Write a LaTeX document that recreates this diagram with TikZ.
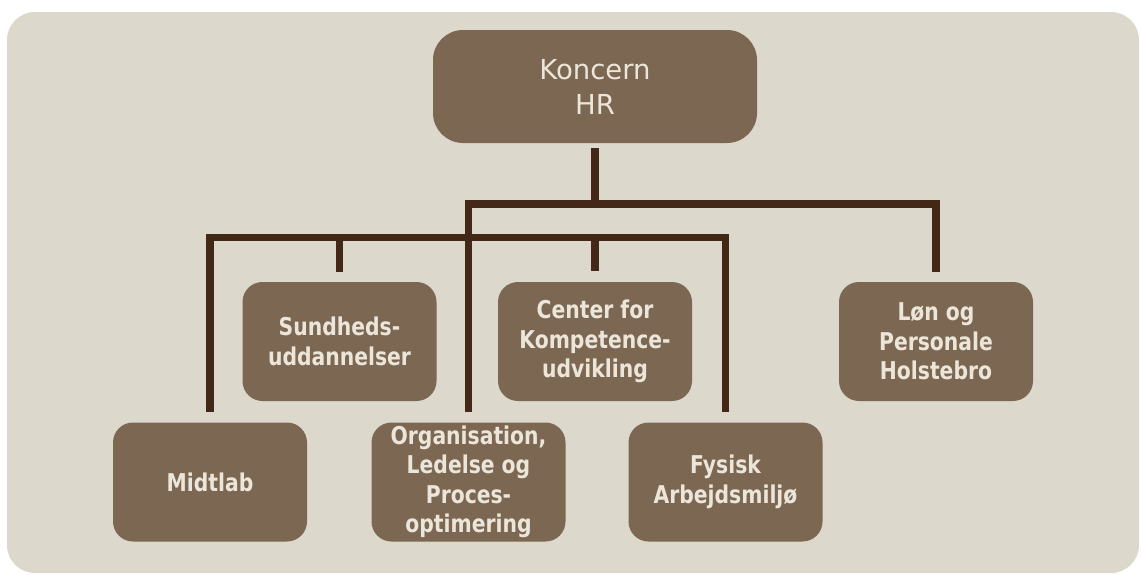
\documentclass[tikz,border=0pt]{standalone}
\usepackage{fontspec}
\setmainfont{DejaVu Sans}[FakeStretch=0.83]
\newfontfamily\topfont{DejaVu Sans}[FakeStretch=1.0]
\definecolor{bgc}{HTML}{DCD8CB}
\definecolor{boxc}{HTML}{7C6752}
\definecolor{linec}{HTML}{432818}
\definecolor{txtc}{HTML}{ECE6DA}
\tikzset{
  unit/.style={fill=boxc, text=txtc, rounded corners=20pt, minimum width=194pt,
    minimum height=119pt, inner sep=0pt, align=center,
    font=\bfseries\fontsize{24.5}{29.5}\selectfont},
  topbox/.style={fill=boxc, text=txtc, rounded corners=30pt, minimum width=324pt,
    minimum height=113pt, inner sep=0pt, align=center,
    font=\topfont\fontsize{27.5}{35}\selectfont},
  conn/.style={draw=linec, line width=7.5pt, line cap=butt, line join=miter}
}
\begin{document}
\begin{tikzpicture}[x=1pt,y=-1pt]
\useasboundingbox (0,0) rectangle (1141,574);
\fill[white] (0,0) rectangle (1141,574);
\fill[bgc, rounded corners=28pt] (7,12) rectangle (1139,573);
\node[topbox] (hr) at (595,86.5) {Koncern\\HR};
\node[unit] (sund) at (339.5,341.5) {Sundheds-\\uddannelser};
\node[unit] (cen) at (595,341.5) {Center for\\Kompetence-\\udvikling};
\node[unit] (lon) at (936,341.5) {Løn og\\Personale\\Holstebro};
\node[unit] (mid) at (210,482) {Midtlab};
\node[unit] (org) at (468.5,482) {Organisation,\\Ledelse og\\Proces-\\optimering};
\node[unit] (fys) at (725.5,482) {Fysisk\\Arbejdsmiljø};
\coordinate (hubA) at (595,204);
\coordinate (hubB) at (595,237.5);
\draw[conn, shorten <=5pt] (hr.south) -- (hubA);
\draw[conn, shorten <=10pt, shorten >=10pt] (org.north) |- (hubA) -| (lon.north);
\draw[conn, shorten <=10pt, shorten >=10pt] (mid.north) |- (hubB) -| (fys.north);
\draw[conn, shorten <=10pt] (sund.north) -- (sund.north |- hubB);
\draw[conn, shorten <=11pt] (cen.north) -- (hubB);
\end{tikzpicture}
\end{document}
